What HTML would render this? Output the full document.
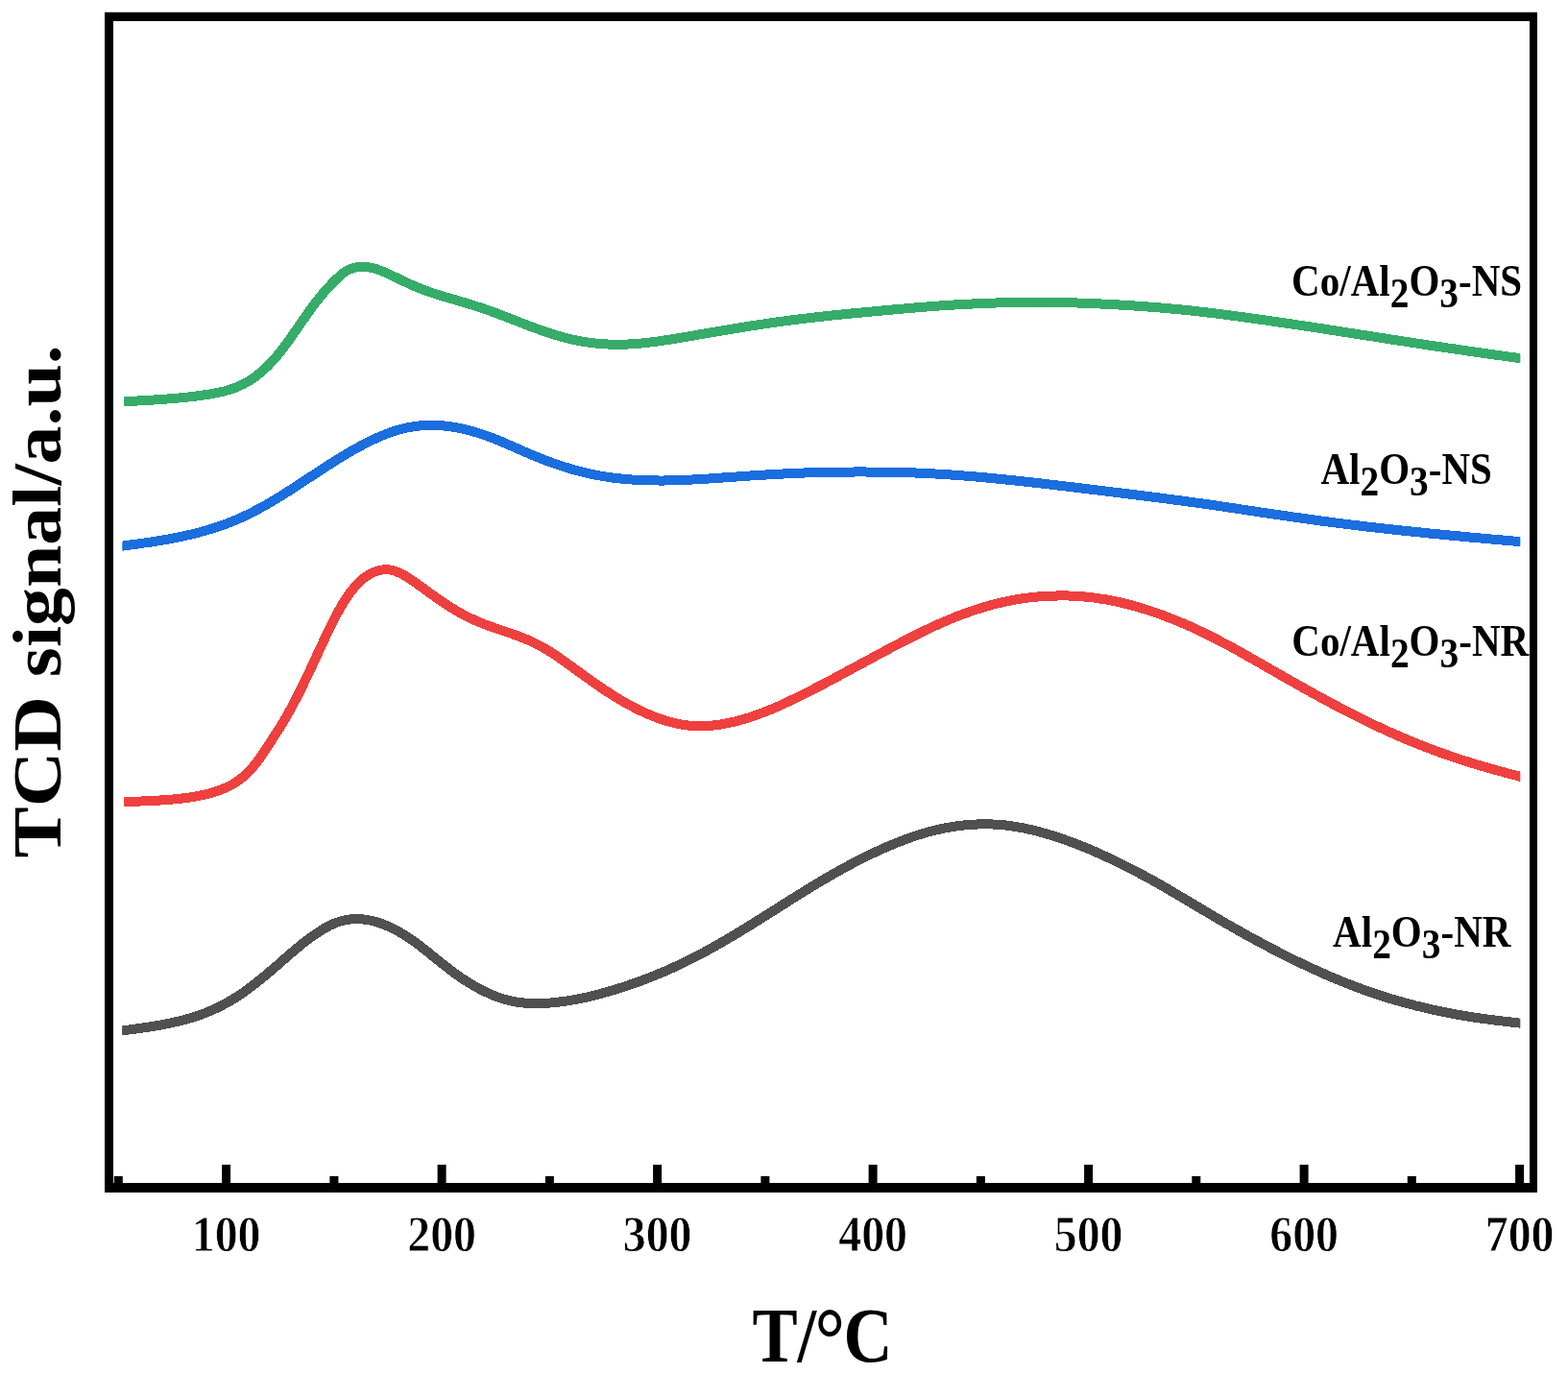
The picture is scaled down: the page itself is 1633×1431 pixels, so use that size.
<!DOCTYPE html>
<html lang="en"><head><meta charset="utf-8"><title>TCD signal</title>
<style>html,body{margin:0;padding:0;background:#fff}svg{display:block}text{font-family:"Liberation Serif","Times New Roman",serif;font-weight:bold;fill:#000}</style></head><body>
<svg width="1633" height="1431" viewBox="0 0 1633 1431">
<rect width="1633" height="1431" fill="#fff"/>
<defs><clipPath id="c-green"><rect x="129.2" y="0" width="1454.0" height="1431"/></clipPath><clipPath id="c-blue"><rect x="127.5" y="0" width="1455.7" height="1431"/></clipPath><clipPath id="c-red"><rect x="129.2" y="0" width="1454.0" height="1431"/></clipPath><clipPath id="c-gray"><rect x="127.2" y="0" width="1456.0" height="1431"/></clipPath><path id="p-gray" d="M119.5 1074.5C120.8 1074.3 125.2 1073.7 127.5 1073.4C129.8 1073.1 131.5 1072.9 133.5 1072.6C135.5 1072.3 137.5 1072.1 139.5 1071.8C141.5 1071.5 143.5 1071.2 145.5 1070.9C147.5 1070.7 149.5 1070.4 151.5 1070.1C153.5 1069.8 155.5 1069.5 157.5 1069.2C159.5 1068.8 161.5 1068.5 163.5 1068.2C165.5 1067.8 167.5 1067.5 169.5 1067.1C171.5 1066.7 173.5 1066.3 175.5 1065.9C177.5 1065.5 179.5 1065.1 181.5 1064.6C183.5 1064.2 185.5 1063.7 187.5 1063.2C189.5 1062.7 191.5 1062.2 193.5 1061.7C195.5 1061.1 197.5 1060.5 199.5 1059.9C201.5 1059.3 203.5 1058.7 205.5 1058.0C207.5 1057.3 209.5 1056.6 211.5 1055.9C213.5 1055.1 215.5 1054.3 217.5 1053.5C219.5 1052.7 221.5 1051.8 223.5 1050.9C225.5 1050.0 227.5 1049.0 229.5 1048.0C231.5 1047.0 233.5 1045.9 235.5 1044.8C237.5 1043.7 239.5 1042.6 241.5 1041.4C243.5 1040.2 245.5 1038.9 247.5 1037.6C249.5 1036.3 251.5 1035.0 253.5 1033.6C255.5 1032.2 257.5 1030.7 259.5 1029.2C261.5 1027.8 263.5 1026.2 265.5 1024.7C267.5 1023.1 269.5 1021.5 271.5 1019.9C273.5 1018.3 275.5 1016.6 277.5 1014.9C279.5 1013.3 281.5 1011.5 283.5 1009.8C285.5 1008.1 287.5 1006.4 289.5 1004.7C291.5 1002.9 293.5 1001.2 295.5 999.4C297.5 997.7 299.5 995.9 301.5 994.2C303.5 992.5 305.5 990.8 307.5 989.1C309.5 987.4 311.5 985.7 313.5 984.1C315.5 982.5 317.5 980.9 319.5 979.4C321.5 977.9 323.5 976.4 325.5 975.0C327.5 973.6 329.5 972.2 331.5 970.9C333.5 969.6 335.5 968.3 337.5 967.1C339.5 966.0 341.5 964.9 343.5 963.9C345.5 962.9 347.5 962.0 349.5 961.2C351.5 960.4 353.5 959.8 355.5 959.2C357.5 958.7 359.5 958.2 361.5 957.9C363.5 957.6 365.5 957.4 367.5 957.2C369.5 957.1 371.5 957.1 373.5 957.2C375.5 957.2 377.5 957.4 379.5 957.6C381.5 957.9 383.5 958.2 385.5 958.6C387.5 959.0 389.5 959.5 391.5 960.1C393.5 960.6 395.5 961.3 397.5 962.0C399.5 962.7 401.5 963.5 403.5 964.4C405.5 965.3 407.5 966.2 409.5 967.2C411.5 968.2 413.5 969.3 415.5 970.4C417.5 971.5 419.5 972.7 421.5 974.0C423.5 975.2 425.5 976.6 427.5 977.9C429.5 979.3 431.5 980.7 433.5 982.2C435.5 983.7 437.5 985.2 439.5 986.8C441.5 988.3 443.5 989.9 445.5 991.5C447.5 993.1 449.5 994.7 451.5 996.3C453.5 997.9 455.5 999.6 457.5 1001.2C459.5 1002.8 461.5 1004.4 463.5 1005.9C465.5 1007.5 467.5 1009.1 469.5 1010.6C471.5 1012.1 473.5 1013.6 475.5 1015.0C477.5 1016.4 479.5 1017.8 481.5 1019.2C483.5 1020.5 485.5 1021.8 487.5 1023.0C489.5 1024.3 491.5 1025.5 493.5 1026.6C495.5 1027.8 497.5 1028.9 499.5 1030.0C501.5 1031.0 503.5 1032.0 505.5 1033.0C507.5 1033.9 509.5 1034.8 511.5 1035.7C513.5 1036.6 515.5 1037.4 517.5 1038.1C519.5 1038.9 521.5 1039.5 523.5 1040.2C525.5 1040.8 527.5 1041.3 529.5 1041.8C531.5 1042.3 533.5 1042.8 535.5 1043.1C537.5 1043.5 539.5 1043.8 541.5 1044.1C543.5 1044.3 545.5 1044.5 547.5 1044.7C549.5 1044.8 551.5 1044.9 553.5 1045.0C555.5 1045.1 557.5 1045.1 559.5 1045.1C561.5 1045.1 563.5 1045.0 565.5 1044.9C567.5 1044.9 569.5 1044.7 571.5 1044.6C573.5 1044.5 575.5 1044.3 577.5 1044.1C579.5 1043.9 581.5 1043.7 583.5 1043.4C585.5 1043.2 587.5 1042.9 589.5 1042.6C591.5 1042.3 593.5 1042.0 595.5 1041.6C597.5 1041.3 599.5 1040.9 601.5 1040.5C603.5 1040.1 605.5 1039.7 607.5 1039.3C609.5 1038.9 611.5 1038.4 613.5 1038.0C615.5 1037.5 617.5 1037.0 619.5 1036.5C621.5 1036.0 623.5 1035.5 625.5 1034.9C627.5 1034.4 629.5 1033.9 631.5 1033.3C633.5 1032.7 635.5 1032.1 637.5 1031.6C639.5 1031.0 641.5 1030.3 643.5 1029.7C645.5 1029.1 647.5 1028.5 649.5 1027.8C651.5 1027.2 653.5 1026.5 655.5 1025.8C657.5 1025.1 659.5 1024.4 661.5 1023.7C663.5 1023.0 665.5 1022.3 667.5 1021.6C669.5 1020.8 671.5 1020.1 673.5 1019.3C675.5 1018.5 677.5 1017.7 679.5 1016.9C681.5 1016.1 683.5 1015.3 685.5 1014.5C687.5 1013.7 689.5 1012.8 691.5 1012.0C693.5 1011.1 695.5 1010.2 697.5 1009.3C699.5 1008.4 701.5 1007.5 703.5 1006.6C705.5 1005.7 707.5 1004.7 709.5 1003.8C711.5 1002.8 713.5 1001.9 715.5 1000.9C717.5 999.9 719.5 998.9 721.5 997.9C723.5 996.8 725.5 995.8 727.5 994.8C729.5 993.7 731.5 992.7 733.5 991.6C735.5 990.5 737.5 989.4 739.5 988.3C741.5 987.2 743.5 986.1 745.5 985.0C747.5 983.8 749.5 982.7 751.5 981.5C753.5 980.4 755.5 979.2 757.5 978.0C759.5 976.9 761.5 975.7 763.5 974.5C765.5 973.3 767.5 972.1 769.5 970.9C771.5 969.7 773.5 968.4 775.5 967.2C777.5 966.0 779.5 964.8 781.5 963.5C783.5 962.3 785.5 961.0 787.5 959.8C789.5 958.5 791.5 957.3 793.5 956.0C795.5 954.8 797.5 953.5 799.5 952.3C801.5 951.0 803.5 949.7 805.5 948.5C807.5 947.2 809.5 945.9 811.5 944.7C813.5 943.4 815.5 942.1 817.5 940.9C819.5 939.6 821.5 938.3 823.5 937.1C825.5 935.8 827.5 934.6 829.5 933.3C831.5 932.1 833.5 930.8 835.5 929.6C837.5 928.3 839.5 927.1 841.5 925.9C843.5 924.6 845.5 923.4 847.5 922.2C849.5 921.0 851.5 919.8 853.5 918.6C855.5 917.4 857.5 916.2 859.5 915.1C861.5 913.9 863.5 912.7 865.5 911.6C867.5 910.4 869.5 909.3 871.5 908.2C873.5 907.0 875.5 905.9 877.5 904.8C879.5 903.7 881.5 902.6 883.5 901.6C885.5 900.5 887.5 899.4 889.5 898.4C891.5 897.3 893.5 896.3 895.5 895.3C897.5 894.3 899.5 893.3 901.5 892.3C903.5 891.3 905.5 890.3 907.5 889.4C909.5 888.4 911.5 887.5 913.5 886.6C915.5 885.6 917.5 884.7 919.5 883.8C921.5 883.0 923.5 882.1 925.5 881.2C927.5 880.4 929.5 879.6 931.5 878.7C933.5 877.9 935.5 877.1 937.5 876.3C939.5 875.6 941.5 874.8 943.5 874.1C945.5 873.3 947.5 872.6 949.5 871.9C951.5 871.2 953.5 870.5 955.5 869.9C957.5 869.3 959.5 868.6 961.5 868.0C963.5 867.4 965.5 866.9 967.5 866.3C969.5 865.8 971.5 865.3 973.5 864.8C975.5 864.3 977.5 863.8 979.5 863.4C981.5 863.0 983.5 862.6 985.5 862.2C987.5 861.8 989.5 861.5 991.5 861.1C993.5 860.8 995.5 860.5 997.5 860.3C999.5 860.0 1001.5 859.8 1003.5 859.5C1005.5 859.3 1007.5 859.1 1009.5 859.0C1011.5 858.8 1013.5 858.7 1015.5 858.6C1017.5 858.5 1019.5 858.4 1021.5 858.3C1023.5 858.3 1025.5 858.3 1027.5 858.3C1029.5 858.3 1031.5 858.4 1033.5 858.5C1035.5 858.5 1037.5 858.7 1039.5 858.8C1041.5 858.9 1043.5 859.1 1045.5 859.3C1047.5 859.5 1049.5 859.8 1051.5 860.1C1053.5 860.3 1055.5 860.6 1057.5 860.9C1059.5 861.3 1061.5 861.6 1063.5 862.0C1065.5 862.4 1067.5 862.8 1069.5 863.2C1071.5 863.7 1073.5 864.1 1075.5 864.6C1077.5 865.1 1079.5 865.6 1081.5 866.1C1083.5 866.6 1085.5 867.2 1087.5 867.7C1089.5 868.3 1091.5 868.9 1093.5 869.5C1095.5 870.1 1097.5 870.7 1099.5 871.4C1101.5 872.0 1103.5 872.7 1105.5 873.4C1107.5 874.0 1109.5 874.7 1111.5 875.5C1113.5 876.2 1115.5 876.9 1117.5 877.7C1119.5 878.4 1121.5 879.2 1123.5 880.0C1125.5 880.8 1127.5 881.6 1129.5 882.4C1131.5 883.2 1133.5 884.1 1135.5 884.9C1137.5 885.8 1139.5 886.6 1141.5 887.5C1143.5 888.4 1145.5 889.3 1147.5 890.2C1149.5 891.1 1151.5 892.0 1153.5 893.0C1155.5 893.9 1157.5 894.8 1159.5 895.8C1161.5 896.8 1163.5 897.7 1165.5 898.7C1167.5 899.7 1169.5 900.7 1171.5 901.7C1173.5 902.7 1175.5 903.7 1177.5 904.7C1179.5 905.8 1181.5 906.8 1183.5 907.8C1185.5 908.9 1187.5 909.9 1189.5 911.0C1191.5 912.1 1193.5 913.1 1195.5 914.2C1197.5 915.3 1199.5 916.4 1201.5 917.5C1203.5 918.7 1205.5 919.8 1207.5 920.9C1209.5 922.1 1211.5 923.2 1213.5 924.4C1215.5 925.5 1217.5 926.7 1219.5 927.9C1221.5 929.0 1223.5 930.2 1225.5 931.4C1227.5 932.6 1229.5 933.8 1231.5 934.9C1233.5 936.1 1235.5 937.3 1237.5 938.5C1239.5 939.7 1241.5 940.9 1243.5 942.1C1245.5 943.3 1247.5 944.5 1249.5 945.7C1251.5 946.9 1253.5 948.1 1255.5 949.2C1257.5 950.4 1259.5 951.6 1261.5 952.8C1263.5 954.0 1265.5 955.1 1267.5 956.3C1269.5 957.5 1271.5 958.6 1273.5 959.8C1275.5 961.0 1277.5 962.1 1279.5 963.3C1281.5 964.4 1283.5 965.6 1285.5 966.7C1287.5 967.8 1289.5 969.0 1291.5 970.1C1293.5 971.2 1295.5 972.3 1297.5 973.5C1299.5 974.6 1301.5 975.7 1303.5 976.8C1305.5 977.9 1307.5 979.0 1309.5 980.0C1311.5 981.1 1313.5 982.2 1315.5 983.2C1317.5 984.3 1319.5 985.4 1321.5 986.4C1323.5 987.5 1325.5 988.5 1327.5 989.5C1329.5 990.6 1331.5 991.6 1333.5 992.6C1335.5 993.6 1337.5 994.7 1339.5 995.7C1341.5 996.7 1343.5 997.7 1345.5 998.6C1347.5 999.6 1349.5 1000.6 1351.5 1001.6C1353.5 1002.5 1355.5 1003.5 1357.5 1004.4C1359.5 1005.4 1361.5 1006.3 1363.5 1007.3C1365.5 1008.2 1367.5 1009.1 1369.5 1010.0C1371.5 1010.9 1373.5 1011.8 1375.5 1012.7C1377.5 1013.6 1379.5 1014.5 1381.5 1015.4C1383.5 1016.3 1385.5 1017.1 1387.5 1018.0C1389.5 1018.8 1391.5 1019.6 1393.5 1020.5C1395.5 1021.3 1397.5 1022.1 1399.5 1022.9C1401.5 1023.7 1403.5 1024.5 1405.5 1025.3C1407.5 1026.1 1409.5 1026.8 1411.5 1027.6C1413.5 1028.4 1415.5 1029.1 1417.5 1029.8C1419.5 1030.6 1421.5 1031.3 1423.5 1032.0C1425.5 1032.7 1427.5 1033.4 1429.5 1034.1C1431.5 1034.8 1433.5 1035.4 1435.5 1036.1C1437.5 1036.8 1439.5 1037.4 1441.5 1038.0C1443.5 1038.7 1445.5 1039.3 1447.5 1039.9C1449.5 1040.5 1451.5 1041.1 1453.5 1041.7C1455.5 1042.3 1457.5 1042.9 1459.5 1043.4C1461.5 1044.0 1463.5 1044.5 1465.5 1045.1C1467.5 1045.6 1469.5 1046.1 1471.5 1046.6C1473.5 1047.2 1475.5 1047.7 1477.5 1048.1C1479.5 1048.6 1481.5 1049.1 1483.5 1049.6C1485.5 1050.1 1487.5 1050.5 1489.5 1051.0C1491.5 1051.4 1493.5 1051.9 1495.5 1052.3C1497.5 1052.7 1499.5 1053.1 1501.5 1053.5C1503.5 1054.0 1505.5 1054.4 1507.5 1054.7C1509.5 1055.1 1511.5 1055.5 1513.5 1055.9C1515.5 1056.3 1517.5 1056.6 1519.5 1057.0C1521.5 1057.3 1523.5 1057.7 1525.5 1058.0C1527.5 1058.3 1529.5 1058.7 1531.5 1059.0C1533.5 1059.3 1535.5 1059.6 1537.5 1059.9C1539.5 1060.2 1541.5 1060.5 1543.5 1060.8C1545.5 1061.0 1547.5 1061.3 1549.5 1061.6C1551.5 1061.9 1553.5 1062.1 1555.5 1062.4C1557.5 1062.6 1559.5 1062.9 1561.5 1063.1C1563.5 1063.4 1565.5 1063.6 1567.5 1063.8C1569.5 1064.1 1571.5 1064.3 1573.5 1064.5C1575.5 1064.7 1577.9 1065.0 1579.5 1065.2C1581.1 1065.4 1581.1 1065.4 1583.0 1065.6C1584.9 1065.8 1589.7 1066.3 1591.0 1066.5"/><path id="p-red" d="M120.5 835.6C121.8 835.5 126.2 835.4 128.5 835.3C130.8 835.2 132.5 835.1 134.5 835.0C136.5 835.0 138.5 834.9 140.5 834.8C142.5 834.7 144.5 834.6 146.5 834.5C148.5 834.5 150.5 834.4 152.5 834.3C154.5 834.2 156.5 834.1 158.5 834.0C160.5 833.9 162.5 833.8 164.5 833.6C166.5 833.5 168.5 833.4 170.5 833.3C172.5 833.1 174.5 833.0 176.5 832.8C178.5 832.6 180.5 832.5 182.5 832.3C184.5 832.1 186.5 831.9 188.5 831.6C190.5 831.4 192.5 831.2 194.5 830.9C196.5 830.6 198.5 830.3 200.5 830.0C202.5 829.7 204.5 829.4 206.5 829.0C208.5 828.6 210.5 828.2 212.5 827.7C214.5 827.2 216.5 826.7 218.5 826.2C220.5 825.6 222.5 825.0 224.5 824.4C226.5 823.7 228.5 823.0 230.5 822.3C232.5 821.5 234.5 820.7 236.5 819.7C238.5 818.8 240.5 817.8 242.5 816.6C244.5 815.4 246.5 814.1 248.5 812.7C250.5 811.2 252.5 809.7 254.5 807.9C256.5 806.1 258.5 804.2 260.5 802.0C262.5 799.9 264.5 797.6 266.5 795.0C268.5 792.5 270.5 789.7 272.5 786.9C274.5 784.0 276.5 780.9 278.5 777.8C280.5 774.8 282.5 771.6 284.5 768.5C286.5 765.4 288.5 762.3 290.5 759.2C292.5 756.0 294.5 752.8 296.5 749.4C298.5 746.0 300.5 742.4 302.5 738.8C304.5 735.2 306.5 731.4 308.5 727.5C310.5 723.6 312.5 719.6 314.5 715.5C316.5 711.5 318.5 707.3 320.5 703.1C322.5 698.8 324.5 694.5 326.5 690.2C328.5 685.9 330.5 681.6 332.5 677.2C334.5 672.9 336.5 668.6 338.5 664.4C340.5 660.1 342.5 655.9 344.5 651.9C346.5 647.9 348.5 643.9 350.5 640.2C352.5 636.5 354.5 632.9 356.5 629.5C358.5 626.2 360.5 623.1 362.5 620.2C364.5 617.3 366.5 614.7 368.5 612.3C370.5 609.9 372.5 607.8 374.5 605.9C376.5 604.0 378.5 602.4 380.5 601.0C382.5 599.6 384.5 598.4 386.5 597.3C388.5 596.3 390.5 595.4 392.5 594.8C394.5 594.1 396.5 593.6 398.5 593.4C400.5 593.1 402.5 593.1 404.5 593.3C406.5 593.5 408.5 593.9 410.5 594.5C412.5 595.1 414.5 595.9 416.5 596.9C418.5 597.8 420.5 598.9 422.5 600.1C424.5 601.3 426.5 602.6 428.5 603.9C430.5 605.2 432.5 606.7 434.5 608.1C436.5 609.5 438.5 610.9 440.5 612.4C442.5 613.8 444.5 615.3 446.5 616.8C448.5 618.2 450.5 619.7 452.5 621.1C454.5 622.5 456.5 623.9 458.5 625.3C460.5 626.7 462.5 628.1 464.5 629.4C466.5 630.7 468.5 632.0 470.5 633.2C472.5 634.5 474.5 635.7 476.5 636.8C478.5 638.0 480.5 639.1 482.5 640.2C484.5 641.2 486.5 642.2 488.5 643.2C490.5 644.2 492.5 645.1 494.5 646.0C496.5 646.9 498.5 647.7 500.5 648.5C502.5 649.4 504.5 650.1 506.5 650.9C508.5 651.6 510.5 652.4 512.5 653.1C514.5 653.8 516.5 654.5 518.5 655.1C520.5 655.8 522.5 656.5 524.5 657.2C526.5 657.9 528.5 658.5 530.5 659.2C532.5 659.9 534.5 660.6 536.5 661.3C538.5 662.1 540.5 662.8 542.5 663.6C544.5 664.4 546.5 665.1 548.5 666.0C550.5 666.8 552.5 667.7 554.5 668.7C556.5 669.6 558.5 670.6 560.5 671.6C562.5 672.7 564.5 673.8 566.5 674.9C568.5 676.1 570.5 677.3 572.5 678.5C574.5 679.8 576.5 681.1 578.5 682.4C580.5 683.7 582.5 685.1 584.5 686.5C586.5 687.9 588.5 689.3 590.5 690.8C592.5 692.2 594.5 693.6 596.5 695.1C598.5 696.6 600.5 698.0 602.5 699.5C604.5 700.9 606.5 702.4 608.5 703.8C610.5 705.3 612.5 706.7 614.5 708.2C616.5 709.6 618.5 711.0 620.5 712.4C622.5 713.8 624.5 715.2 626.5 716.5C628.5 717.9 630.5 719.2 632.5 720.5C634.5 721.8 636.5 723.1 638.5 724.3C640.5 725.6 642.5 726.8 644.5 728.0C646.5 729.2 648.5 730.4 650.5 731.5C652.5 732.6 654.5 733.8 656.5 734.8C658.5 735.9 660.5 736.9 662.5 738.0C664.5 739.0 666.5 739.9 668.5 740.9C670.5 741.8 672.5 742.7 674.5 743.6C676.5 744.5 678.5 745.3 680.5 746.1C682.5 746.9 684.5 747.6 686.5 748.4C688.5 749.1 690.5 749.7 692.5 750.4C694.5 751.0 696.5 751.6 698.5 752.1C700.5 752.6 702.5 753.1 704.5 753.5C706.5 754.0 708.5 754.3 710.5 754.7C712.5 755.0 714.5 755.3 716.5 755.5C718.5 755.7 720.5 755.9 722.5 756.0C724.5 756.1 726.5 756.2 728.5 756.2C730.5 756.2 732.5 756.2 734.5 756.1C736.5 756.0 738.5 755.9 740.5 755.7C742.5 755.6 744.5 755.3 746.5 755.1C748.5 754.8 750.5 754.5 752.5 754.2C754.5 753.8 756.5 753.4 758.5 753.0C760.5 752.6 762.5 752.1 764.5 751.7C766.5 751.2 768.5 750.7 770.5 750.1C772.5 749.6 774.5 749.0 776.5 748.4C778.5 747.8 780.5 747.1 782.5 746.5C784.5 745.8 786.5 745.1 788.5 744.4C790.5 743.7 792.5 742.9 794.5 742.1C796.5 741.4 798.5 740.6 800.5 739.8C802.5 739.0 804.5 738.1 806.5 737.3C808.5 736.4 810.5 735.5 812.5 734.7C814.5 733.8 816.5 732.9 818.5 731.9C820.5 731.0 822.5 730.1 824.5 729.1C826.5 728.2 828.5 727.2 830.5 726.2C832.5 725.2 834.5 724.3 836.5 723.3C838.5 722.3 840.5 721.2 842.5 720.2C844.5 719.2 846.5 718.2 848.5 717.1C850.5 716.1 852.5 715.1 854.5 714.0C856.5 713.0 858.5 711.9 860.5 710.9C862.5 709.8 864.5 708.8 866.5 707.7C868.5 706.6 870.5 705.6 872.5 704.5C874.5 703.4 876.5 702.3 878.5 701.3C880.5 700.2 882.5 699.1 884.5 698.0C886.5 697.0 888.5 695.9 890.5 694.8C892.5 693.7 894.5 692.6 896.5 691.5C898.5 690.5 900.5 689.4 902.5 688.3C904.5 687.2 906.5 686.1 908.5 685.1C910.5 684.0 912.5 682.9 914.5 681.8C916.5 680.8 918.5 679.7 920.5 678.6C922.5 677.6 924.5 676.5 926.5 675.4C928.5 674.4 930.5 673.3 932.5 672.3C934.5 671.2 936.5 670.2 938.5 669.1C940.5 668.1 942.5 667.1 944.5 666.0C946.5 665.0 948.5 664.0 950.5 663.0C952.5 662.0 954.5 661.0 956.5 660.0C958.5 659.0 960.5 658.0 962.5 657.0C964.5 656.1 966.5 655.1 968.5 654.2C970.5 653.2 972.5 652.3 974.5 651.4C976.5 650.5 978.5 649.6 980.5 648.7C982.5 647.8 984.5 647.0 986.5 646.1C988.5 645.3 990.5 644.5 992.5 643.7C994.5 642.8 996.5 642.1 998.5 641.3C1000.5 640.5 1002.5 639.8 1004.5 639.0C1006.5 638.3 1008.5 637.6 1010.5 636.9C1012.5 636.2 1014.5 635.5 1016.5 634.9C1018.5 634.2 1020.5 633.6 1022.5 633.0C1024.5 632.4 1026.5 631.8 1028.5 631.2C1030.5 630.7 1032.5 630.1 1034.5 629.6C1036.5 629.1 1038.5 628.6 1040.5 628.1C1042.5 627.6 1044.5 627.2 1046.5 626.7C1048.5 626.3 1050.5 625.9 1052.5 625.5C1054.5 625.1 1056.5 624.7 1058.5 624.4C1060.5 624.0 1062.5 623.7 1064.5 623.4C1066.5 623.1 1068.5 622.8 1070.5 622.6C1072.5 622.3 1074.5 622.1 1076.5 621.9C1078.5 621.7 1080.5 621.5 1082.5 621.3C1084.5 621.2 1086.5 621.0 1088.5 620.9C1090.5 620.8 1092.5 620.7 1094.5 620.6C1096.5 620.5 1098.5 620.5 1100.5 620.5C1102.5 620.4 1104.5 620.4 1106.5 620.4C1108.5 620.4 1110.5 620.5 1112.5 620.5C1114.5 620.6 1116.5 620.7 1118.5 620.7C1120.5 620.8 1122.5 621.0 1124.5 621.1C1126.5 621.2 1128.5 621.4 1130.5 621.6C1132.5 621.8 1134.5 622.0 1136.5 622.2C1138.5 622.5 1140.5 622.7 1142.5 623.0C1144.5 623.3 1146.5 623.6 1148.5 623.9C1150.5 624.2 1152.5 624.6 1154.5 624.9C1156.5 625.3 1158.5 625.7 1160.5 626.1C1162.5 626.5 1164.5 627.0 1166.5 627.4C1168.5 627.9 1170.5 628.4 1172.5 628.9C1174.5 629.4 1176.5 629.9 1178.5 630.4C1180.5 631.0 1182.5 631.5 1184.5 632.1C1186.5 632.7 1188.5 633.3 1190.5 633.9C1192.5 634.5 1194.5 635.2 1196.5 635.8C1198.5 636.5 1200.5 637.1 1202.5 637.8C1204.5 638.5 1206.5 639.2 1208.5 639.9C1210.5 640.7 1212.5 641.4 1214.5 642.2C1216.5 642.9 1218.5 643.7 1220.5 644.5C1222.5 645.3 1224.5 646.1 1226.5 646.9C1228.5 647.7 1230.5 648.6 1232.5 649.4C1234.5 650.3 1236.5 651.1 1238.5 652.0C1240.5 652.9 1242.5 653.8 1244.5 654.7C1246.5 655.7 1248.5 656.6 1250.5 657.6C1252.5 658.5 1254.5 659.5 1256.5 660.5C1258.5 661.4 1260.5 662.5 1262.5 663.5C1264.5 664.5 1266.5 665.5 1268.5 666.5C1270.5 667.6 1272.5 668.6 1274.5 669.7C1276.5 670.8 1278.5 671.8 1280.5 672.9C1282.5 674.0 1284.5 675.1 1286.5 676.2C1288.5 677.3 1290.5 678.4 1292.5 679.5C1294.5 680.7 1296.5 681.8 1298.5 682.9C1300.5 684.0 1302.5 685.2 1304.5 686.3C1306.5 687.4 1308.5 688.6 1310.5 689.7C1312.5 690.9 1314.5 692.0 1316.5 693.2C1318.5 694.3 1320.5 695.5 1322.5 696.6C1324.5 697.7 1326.5 698.9 1328.5 700.0C1330.5 701.2 1332.5 702.3 1334.5 703.5C1336.5 704.6 1338.5 705.8 1340.5 706.9C1342.5 708.1 1344.5 709.2 1346.5 710.3C1348.5 711.5 1350.5 712.6 1352.5 713.7C1354.5 714.8 1356.5 716.0 1358.5 717.1C1360.5 718.2 1362.5 719.3 1364.5 720.4C1366.5 721.5 1368.5 722.6 1370.5 723.7C1372.5 724.8 1374.5 725.9 1376.5 727.0C1378.5 728.1 1380.5 729.2 1382.5 730.2C1384.5 731.3 1386.5 732.4 1388.5 733.5C1390.5 734.5 1392.5 735.6 1394.5 736.6C1396.5 737.7 1398.5 738.7 1400.5 739.7C1402.5 740.8 1404.5 741.8 1406.5 742.8C1408.5 743.8 1410.5 744.9 1412.5 745.9C1414.5 746.9 1416.5 747.9 1418.5 748.8C1420.5 749.8 1422.5 750.8 1424.5 751.8C1426.5 752.8 1428.5 753.7 1430.5 754.7C1432.5 755.6 1434.5 756.6 1436.5 757.5C1438.5 758.4 1440.5 759.4 1442.5 760.3C1444.5 761.2 1446.5 762.1 1448.5 763.0C1450.5 763.9 1452.5 764.8 1454.5 765.6C1456.5 766.5 1458.5 767.4 1460.5 768.2C1462.5 769.1 1464.5 769.9 1466.5 770.8C1468.5 771.6 1470.5 772.4 1472.5 773.2C1474.5 774.0 1476.5 774.8 1478.5 775.6C1480.5 776.4 1482.5 777.2 1484.5 778.0C1486.5 778.8 1488.5 779.5 1490.5 780.3C1492.5 781.0 1494.5 781.8 1496.5 782.5C1498.5 783.2 1500.5 784.0 1502.5 784.7C1504.5 785.4 1506.5 786.1 1508.5 786.8C1510.5 787.5 1512.5 788.2 1514.5 788.8C1516.5 789.5 1518.5 790.2 1520.5 790.8C1522.5 791.5 1524.5 792.1 1526.5 792.8C1528.5 793.4 1530.5 794.0 1532.5 794.6C1534.5 795.2 1536.5 795.9 1538.5 796.5C1540.5 797.0 1542.5 797.6 1544.5 798.2C1546.5 798.8 1548.5 799.4 1550.5 799.9C1552.5 800.5 1554.5 801.1 1556.5 801.6C1558.5 802.2 1560.5 802.7 1562.5 803.3C1564.5 803.8 1566.5 804.4 1568.5 804.9C1570.5 805.4 1572.5 806.0 1574.5 806.5C1576.5 807.0 1579.1 807.7 1580.5 808.1C1581.9 808.5 1581.2 808.3 1583.0 808.8C1584.8 809.2 1589.7 810.5 1591.0 810.9"/><path id="p-blue" d="M119.5 569.7C120.8 569.5 125.2 568.9 127.5 568.6C129.8 568.3 131.5 568.1 133.5 567.8C135.5 567.6 137.5 567.3 139.5 567.0C141.5 566.8 143.5 566.5 145.5 566.2C147.5 565.9 149.5 565.6 151.5 565.3C153.5 565.1 155.5 564.8 157.5 564.5C159.5 564.2 161.5 563.8 163.5 563.5C165.5 563.2 167.5 562.9 169.5 562.5C171.5 562.2 173.5 561.8 175.5 561.5C177.5 561.1 179.5 560.7 181.5 560.4C183.5 560.0 185.5 559.6 187.5 559.1C189.5 558.7 191.5 558.3 193.5 557.8C195.5 557.4 197.5 556.9 199.5 556.5C201.5 556.0 203.5 555.5 205.5 555.0C207.5 554.4 209.5 553.9 211.5 553.3C213.5 552.8 215.5 552.2 217.5 551.6C219.5 551.0 221.5 550.4 223.5 549.7C225.5 549.1 227.5 548.4 229.5 547.7C231.5 547.0 233.5 546.3 235.5 545.6C237.5 544.8 239.5 544.0 241.5 543.2C243.5 542.4 245.5 541.6 247.5 540.7C249.5 539.9 251.5 539.0 253.5 538.0C255.5 537.1 257.5 536.2 259.5 535.2C261.5 534.2 263.5 533.2 265.5 532.1C267.5 531.1 269.5 530.0 271.5 528.9C273.5 527.8 275.5 526.7 277.5 525.6C279.5 524.4 281.5 523.2 283.5 522.1C285.5 520.9 287.5 519.7 289.5 518.4C291.5 517.2 293.5 516.0 295.5 514.7C297.5 513.4 299.5 512.2 301.5 510.9C303.5 509.6 305.5 508.3 307.5 507.0C309.5 505.7 311.5 504.4 313.5 503.1C315.5 501.8 317.5 500.5 319.5 499.1C321.5 497.8 323.5 496.5 325.5 495.2C327.5 493.9 329.5 492.6 331.5 491.2C333.5 489.9 335.5 488.6 337.5 487.3C339.5 486.0 341.5 484.8 343.5 483.5C345.5 482.2 347.5 480.9 349.5 479.7C351.5 478.4 353.5 477.2 355.5 476.0C357.5 474.8 359.5 473.6 361.5 472.4C363.5 471.2 365.5 470.0 367.5 468.9C369.5 467.8 371.5 466.6 373.5 465.6C375.5 464.5 377.5 463.4 379.5 462.4C381.5 461.3 383.5 460.3 385.5 459.3C387.5 458.4 389.5 457.4 391.5 456.5C393.5 455.6 395.5 454.7 397.5 453.9C399.5 453.1 401.5 452.3 403.5 451.5C405.5 450.8 407.5 450.0 409.5 449.4C411.5 448.7 413.5 448.1 415.5 447.5C417.5 447.0 419.5 446.5 421.5 446.0C423.5 445.5 425.5 445.1 427.5 444.8C429.5 444.4 431.5 444.1 433.5 443.9C435.5 443.6 437.5 443.4 439.5 443.3C441.5 443.1 443.5 443.0 445.5 442.9C447.5 442.9 449.5 442.8 451.5 442.9C453.5 442.9 455.5 443.0 457.5 443.1C459.5 443.2 461.5 443.4 463.5 443.6C465.5 443.8 467.5 444.1 469.5 444.4C471.5 444.6 473.5 445.0 475.5 445.3C477.5 445.7 479.5 446.1 481.5 446.6C483.5 447.0 485.5 447.5 487.5 448.0C489.5 448.5 491.5 449.0 493.5 449.6C495.5 450.2 497.5 450.8 499.5 451.5C501.5 452.1 503.5 452.8 505.5 453.5C507.5 454.2 509.5 454.9 511.5 455.7C513.5 456.4 515.5 457.2 517.5 458.0C519.5 458.8 521.5 459.7 523.5 460.5C525.5 461.3 527.5 462.2 529.5 463.1C531.5 463.9 533.5 464.8 535.5 465.7C537.5 466.6 539.5 467.5 541.5 468.4C543.5 469.2 545.5 470.1 547.5 471.0C549.5 471.9 551.5 472.7 553.5 473.6C555.5 474.4 557.5 475.2 559.5 476.0C561.5 476.8 563.5 477.6 565.5 478.4C567.5 479.2 569.5 479.9 571.5 480.7C573.5 481.4 575.5 482.2 577.5 482.9C579.5 483.6 581.5 484.2 583.5 484.9C585.5 485.6 587.5 486.2 589.5 486.8C591.5 487.4 593.5 488.0 595.5 488.6C597.5 489.2 599.5 489.8 601.5 490.3C603.5 490.8 605.5 491.3 607.5 491.8C609.5 492.3 611.5 492.8 613.5 493.2C615.5 493.6 617.5 494.1 619.5 494.5C621.5 494.9 623.5 495.2 625.5 495.6C627.5 495.9 629.5 496.3 631.5 496.6C633.5 496.9 635.5 497.2 637.5 497.5C639.5 497.7 641.5 498.0 643.5 498.2C645.5 498.4 647.5 498.6 649.5 498.8C651.5 499.0 653.5 499.2 655.5 499.3C657.5 499.5 659.5 499.6 661.5 499.8C663.5 499.9 665.5 500.0 667.5 500.1C669.5 500.1 671.5 500.2 673.5 500.3C675.5 500.3 677.5 500.4 679.5 500.4C681.5 500.4 683.5 500.5 685.5 500.5C687.5 500.5 689.5 500.5 691.5 500.5C693.5 500.4 695.5 500.4 697.5 500.4C699.5 500.3 701.5 500.3 703.5 500.2C705.5 500.2 707.5 500.1 709.5 500.0C711.5 500.0 713.5 499.9 715.5 499.8C717.5 499.7 719.5 499.6 721.5 499.5C723.5 499.4 725.5 499.3 727.5 499.2C729.5 499.0 731.5 498.9 733.5 498.8C735.5 498.7 737.5 498.5 739.5 498.4C741.5 498.3 743.5 498.1 745.5 498.0C747.5 497.9 749.5 497.7 751.5 497.6C753.5 497.4 755.5 497.3 757.5 497.2C759.5 497.0 761.5 496.9 763.5 496.7C765.5 496.6 767.5 496.5 769.5 496.3C771.5 496.2 773.5 496.0 775.5 495.9C777.5 495.8 779.5 495.6 781.5 495.5C783.5 495.4 785.5 495.2 787.5 495.1C789.5 495.0 791.5 494.8 793.5 494.7C795.5 494.6 797.5 494.5 799.5 494.4C801.5 494.2 803.5 494.1 805.5 494.0C807.5 493.9 809.5 493.8 811.5 493.7C813.5 493.6 815.5 493.5 817.5 493.4C819.5 493.3 821.5 493.2 823.5 493.1C825.5 493.0 827.5 492.9 829.5 492.8C831.5 492.7 833.5 492.7 835.5 492.6C837.5 492.5 839.5 492.4 841.5 492.4C843.5 492.3 845.5 492.2 847.5 492.2C849.5 492.1 851.5 492.1 853.5 492.0C855.5 491.9 857.5 491.9 859.5 491.9C861.5 491.8 863.5 491.8 865.5 491.7C867.5 491.7 869.5 491.7 871.5 491.6C873.5 491.6 875.5 491.6 877.5 491.6C879.5 491.5 881.5 491.5 883.5 491.5C885.5 491.5 887.5 491.5 889.5 491.5C891.5 491.4 893.5 491.4 895.5 491.4C897.5 491.4 899.5 491.4 901.5 491.5C903.5 491.5 905.5 491.5 907.5 491.5C909.5 491.5 911.5 491.5 913.5 491.5C915.5 491.6 917.5 491.6 919.5 491.6C921.5 491.6 923.5 491.7 925.5 491.7C927.5 491.7 929.5 491.8 931.5 491.8C933.5 491.9 935.5 491.9 937.5 492.0C939.5 492.0 941.5 492.1 943.5 492.2C945.5 492.2 947.5 492.3 949.5 492.4C951.5 492.4 953.5 492.5 955.5 492.6C957.5 492.7 959.5 492.8 961.5 492.9C963.5 492.9 965.5 493.0 967.5 493.1C969.5 493.2 971.5 493.3 973.5 493.5C975.5 493.6 977.5 493.7 979.5 493.8C981.5 493.9 983.5 494.0 985.5 494.2C987.5 494.3 989.5 494.4 991.5 494.6C993.5 494.7 995.5 494.9 997.5 495.0C999.5 495.1 1001.5 495.3 1003.5 495.5C1005.5 495.6 1007.5 495.8 1009.5 495.9C1011.5 496.1 1013.5 496.3 1015.5 496.4C1017.5 496.6 1019.5 496.8 1021.5 497.0C1023.5 497.1 1025.5 497.3 1027.5 497.5C1029.5 497.7 1031.5 497.9 1033.5 498.1C1035.5 498.3 1037.5 498.5 1039.5 498.7C1041.5 498.9 1043.5 499.1 1045.5 499.3C1047.5 499.5 1049.5 499.7 1051.5 499.9C1053.5 500.1 1055.5 500.3 1057.5 500.5C1059.5 500.7 1061.5 500.9 1063.5 501.2C1065.5 501.4 1067.5 501.6 1069.5 501.8C1071.5 502.0 1073.5 502.3 1075.5 502.5C1077.5 502.7 1079.5 502.9 1081.5 503.2C1083.5 503.4 1085.5 503.6 1087.5 503.9C1089.5 504.1 1091.5 504.3 1093.5 504.6C1095.5 504.8 1097.5 505.0 1099.5 505.3C1101.5 505.5 1103.5 505.8 1105.5 506.0C1107.5 506.2 1109.5 506.5 1111.5 506.7C1113.5 507.0 1115.5 507.2 1117.5 507.4C1119.5 507.7 1121.5 507.9 1123.5 508.2C1125.5 508.4 1127.5 508.6 1129.5 508.9C1131.5 509.1 1133.5 509.4 1135.5 509.6C1137.5 509.9 1139.5 510.1 1141.5 510.3C1143.5 510.6 1145.5 510.8 1147.5 511.1C1149.5 511.3 1151.5 511.6 1153.5 511.8C1155.5 512.1 1157.5 512.3 1159.5 512.6C1161.5 512.8 1163.5 513.0 1165.5 513.3C1167.5 513.5 1169.5 513.8 1171.5 514.0C1173.5 514.3 1175.5 514.5 1177.5 514.8C1179.5 515.0 1181.5 515.3 1183.5 515.5C1185.5 515.8 1187.5 516.0 1189.5 516.3C1191.5 516.5 1193.5 516.8 1195.5 517.0C1197.5 517.3 1199.5 517.5 1201.5 517.8C1203.5 518.0 1205.5 518.3 1207.5 518.5C1209.5 518.8 1211.5 519.1 1213.5 519.3C1215.5 519.6 1217.5 519.8 1219.5 520.1C1221.5 520.3 1223.5 520.6 1225.5 520.9C1227.5 521.1 1229.5 521.4 1231.5 521.7C1233.5 521.9 1235.5 522.2 1237.5 522.5C1239.5 522.7 1241.5 523.0 1243.5 523.3C1245.5 523.6 1247.5 523.8 1249.5 524.1C1251.5 524.4 1253.5 524.7 1255.5 525.0C1257.5 525.2 1259.5 525.5 1261.5 525.8C1263.5 526.1 1265.5 526.4 1267.5 526.7C1269.5 527.0 1271.5 527.3 1273.5 527.6C1275.5 527.9 1277.5 528.2 1279.5 528.5C1281.5 528.8 1283.5 529.1 1285.5 529.4C1287.5 529.7 1289.5 530.0 1291.5 530.3C1293.5 530.6 1295.5 530.9 1297.5 531.2C1299.5 531.5 1301.5 531.8 1303.5 532.1C1305.5 532.4 1307.5 532.7 1309.5 533.0C1311.5 533.3 1313.5 533.6 1315.5 533.9C1317.5 534.2 1319.5 534.5 1321.5 534.8C1323.5 535.1 1325.5 535.4 1327.5 535.7C1329.5 536.0 1331.5 536.3 1333.5 536.5C1335.5 536.8 1337.5 537.1 1339.5 537.4C1341.5 537.7 1343.5 538.0 1345.5 538.3C1347.5 538.6 1349.5 538.9 1351.5 539.1C1353.5 539.4 1355.5 539.7 1357.5 540.0C1359.5 540.3 1361.5 540.5 1363.5 540.8C1365.5 541.1 1367.5 541.4 1369.5 541.6C1371.5 541.9 1373.5 542.2 1375.5 542.5C1377.5 542.7 1379.5 543.0 1381.5 543.3C1383.5 543.5 1385.5 543.8 1387.5 544.0C1389.5 544.3 1391.5 544.6 1393.5 544.8C1395.5 545.1 1397.5 545.3 1399.5 545.6C1401.5 545.8 1403.5 546.1 1405.5 546.3C1407.5 546.6 1409.5 546.8 1411.5 547.0C1413.5 547.3 1415.5 547.5 1417.5 547.8C1419.5 548.0 1421.5 548.2 1423.5 548.5C1425.5 548.7 1427.5 548.9 1429.5 549.2C1431.5 549.4 1433.5 549.6 1435.5 549.8C1437.5 550.1 1439.5 550.3 1441.5 550.5C1443.5 550.7 1445.5 551.0 1447.5 551.2C1449.5 551.4 1451.5 551.6 1453.5 551.8C1455.5 552.0 1457.5 552.3 1459.5 552.5C1461.5 552.7 1463.5 552.9 1465.5 553.1C1467.5 553.3 1469.5 553.5 1471.5 553.7C1473.5 553.9 1475.5 554.1 1477.5 554.3C1479.5 554.5 1481.5 554.7 1483.5 555.0C1485.5 555.2 1487.5 555.4 1489.5 555.6C1491.5 555.8 1493.5 555.9 1495.5 556.1C1497.5 556.3 1499.5 556.5 1501.5 556.7C1503.5 556.9 1505.5 557.1 1507.5 557.3C1509.5 557.5 1511.5 557.7 1513.5 557.9C1515.5 558.1 1517.5 558.3 1519.5 558.4C1521.5 558.6 1523.5 558.8 1525.5 559.0C1527.5 559.2 1529.5 559.4 1531.5 559.6C1533.5 559.7 1535.5 559.9 1537.5 560.1C1539.5 560.3 1541.5 560.5 1543.5 560.6C1545.5 560.8 1547.5 561.0 1549.5 561.2C1551.5 561.4 1553.5 561.5 1555.5 561.7C1557.5 561.9 1559.5 562.1 1561.5 562.2C1563.5 562.4 1565.5 562.6 1567.5 562.8C1569.5 562.9 1571.5 563.1 1573.5 563.3C1575.5 563.4 1577.9 563.7 1579.5 563.8C1581.1 563.9 1581.1 563.9 1583.0 564.1C1584.9 564.3 1589.7 564.7 1591.0 564.8"/><path id="p-green" d="M120.5 418.8C121.8 418.7 126.2 418.4 128.5 418.3C130.8 418.2 132.5 418.1 134.5 418.0C136.5 417.9 138.5 417.8 140.5 417.7C142.5 417.5 144.5 417.4 146.5 417.3C148.5 417.2 150.5 417.1 152.5 417.0C154.5 416.8 156.5 416.7 158.5 416.6C160.5 416.5 162.5 416.3 164.5 416.2C166.5 416.1 168.5 415.9 170.5 415.8C172.5 415.6 174.5 415.5 176.5 415.3C178.5 415.2 180.5 415.0 182.5 414.8C184.5 414.6 186.5 414.5 188.5 414.3C190.5 414.1 192.5 413.9 194.5 413.7C196.5 413.4 198.5 413.2 200.5 413.0C202.5 412.8 204.5 412.5 206.5 412.2C208.5 412.0 210.5 411.7 212.5 411.4C214.5 411.1 216.5 410.8 218.5 410.5C220.5 410.1 222.5 409.8 224.5 409.4C226.5 409.0 228.5 408.6 230.5 408.1C232.5 407.7 234.5 407.2 236.5 406.6C238.5 406.0 240.5 405.4 242.5 404.7C244.5 404.0 246.5 403.2 248.5 402.3C250.5 401.4 252.5 400.5 254.5 399.4C256.5 398.4 258.5 397.2 260.5 396.0C262.5 394.7 264.5 393.3 266.5 391.8C268.5 390.3 270.5 388.7 272.5 387.0C274.5 385.3 276.5 383.5 278.5 381.5C280.5 379.5 282.5 377.4 284.5 375.2C286.5 373.0 288.5 370.7 290.5 368.2C292.5 365.8 294.5 363.2 296.5 360.5C298.5 357.8 300.5 355.1 302.5 352.2C304.5 349.4 306.5 346.5 308.5 343.6C310.5 340.7 312.5 337.7 314.5 334.8C316.5 332.0 318.5 329.1 320.5 326.3C322.5 323.5 324.5 320.8 326.5 318.1C328.5 315.5 330.5 312.9 332.5 310.4C334.5 307.9 336.5 305.5 338.5 303.2C340.5 300.9 342.5 298.7 344.5 296.6C346.5 294.5 348.5 292.4 350.5 290.5C352.5 288.6 354.5 286.8 356.5 285.2C358.5 283.7 360.5 282.3 362.5 281.3C364.5 280.2 366.5 279.5 368.5 278.9C370.5 278.4 372.5 278.1 374.5 278.0C376.5 277.8 378.5 277.9 380.5 278.0C382.5 278.2 384.5 278.5 386.5 278.9C388.5 279.3 390.5 279.8 392.5 280.4C394.5 281.1 396.5 281.8 398.5 282.6C400.5 283.4 402.5 284.3 404.5 285.2C406.5 286.1 408.5 287.1 410.5 288.1C412.5 289.0 414.5 290.0 416.5 291.0C418.5 292.0 420.5 292.9 422.5 293.9C424.5 294.8 426.5 295.8 428.5 296.6C430.5 297.5 432.5 298.4 434.5 299.2C436.5 300.1 438.5 300.9 440.5 301.6C442.5 302.4 444.5 303.1 446.5 303.8C448.5 304.5 450.5 305.2 452.5 305.8C454.5 306.5 456.5 307.1 458.5 307.7C460.5 308.3 462.5 308.9 464.5 309.5C466.5 310.1 468.5 310.7 470.5 311.3C472.5 311.8 474.5 312.4 476.5 313.0C478.5 313.6 480.5 314.2 482.5 314.8C484.5 315.4 486.5 316.0 488.5 316.6C490.5 317.2 492.5 317.8 494.5 318.5C496.5 319.1 498.5 319.8 500.5 320.4C502.5 321.1 504.5 321.8 506.5 322.5C508.5 323.2 510.5 323.9 512.5 324.6C514.5 325.4 516.5 326.1 518.5 326.8C520.5 327.6 522.5 328.3 524.5 329.1C526.5 329.9 528.5 330.6 530.5 331.4C532.5 332.2 534.5 333.0 536.5 333.7C538.5 334.5 540.5 335.3 542.5 336.1C544.5 336.8 546.5 337.6 548.5 338.4C550.5 339.2 552.5 339.9 554.5 340.7C556.5 341.4 558.5 342.2 560.5 342.9C562.5 343.6 564.5 344.3 566.5 345.0C568.5 345.7 570.5 346.4 572.5 347.0C574.5 347.7 576.5 348.3 578.5 348.9C580.5 349.5 582.5 350.1 584.5 350.7C586.5 351.2 588.5 351.7 590.5 352.2C592.5 352.7 594.5 353.2 596.5 353.7C598.5 354.1 600.5 354.5 602.5 354.9C604.5 355.3 606.5 355.6 608.5 356.0C610.5 356.3 612.5 356.6 614.5 356.8C616.5 357.1 618.5 357.3 620.5 357.6C622.5 357.8 624.5 357.9 626.5 358.1C628.5 358.2 630.5 358.4 632.5 358.5C634.5 358.6 636.5 358.6 638.5 358.7C640.5 358.7 642.5 358.7 644.5 358.7C646.5 358.7 648.5 358.7 650.5 358.6C652.5 358.6 654.5 358.5 656.5 358.4C658.5 358.3 660.5 358.1 662.5 358.0C664.5 357.8 666.5 357.6 668.5 357.5C670.5 357.3 672.5 357.1 674.5 356.8C676.5 356.6 678.5 356.4 680.5 356.1C682.5 355.9 684.5 355.6 686.5 355.3C688.5 355.0 690.5 354.7 692.5 354.4C694.5 354.1 696.5 353.8 698.5 353.5C700.5 353.2 702.5 352.9 704.5 352.5C706.5 352.2 708.5 351.9 710.5 351.5C712.5 351.2 714.5 350.9 716.5 350.5C718.5 350.2 720.5 349.8 722.5 349.5C724.5 349.1 726.5 348.8 728.5 348.4C730.5 348.1 732.5 347.7 734.5 347.4C736.5 347.1 738.5 346.7 740.5 346.4C742.5 346.0 744.5 345.7 746.5 345.3C748.5 345.0 750.5 344.6 752.5 344.3C754.5 344.0 756.5 343.6 758.5 343.3C760.5 342.9 762.5 342.6 764.5 342.3C766.5 342.0 768.5 341.6 770.5 341.3C772.5 341.0 774.5 340.7 776.5 340.3C778.5 340.0 780.5 339.7 782.5 339.4C784.5 339.1 786.5 338.8 788.5 338.5C790.5 338.2 792.5 337.9 794.5 337.6C796.5 337.3 798.5 337.0 800.5 336.7C802.5 336.4 804.5 336.1 806.5 335.8C808.5 335.6 810.5 335.3 812.5 335.0C814.5 334.7 816.5 334.5 818.5 334.2C820.5 333.9 822.5 333.7 824.5 333.4C826.5 333.1 828.5 332.9 830.5 332.6C832.5 332.4 834.5 332.1 836.5 331.9C838.5 331.7 840.5 331.4 842.5 331.2C844.5 330.9 846.5 330.7 848.5 330.5C850.5 330.3 852.5 330.0 854.5 329.8C856.5 329.6 858.5 329.4 860.5 329.2C862.5 329.0 864.5 328.7 866.5 328.5C868.5 328.3 870.5 328.1 872.5 327.9C874.5 327.7 876.5 327.5 878.5 327.3C880.5 327.1 882.5 326.9 884.5 326.7C886.5 326.5 888.5 326.3 890.5 326.2C892.5 326.0 894.5 325.8 896.5 325.6C898.5 325.4 900.5 325.2 902.5 325.0C904.5 324.8 906.5 324.6 908.5 324.5C910.5 324.3 912.5 324.1 914.5 323.9C916.5 323.7 918.5 323.5 920.5 323.3C922.5 323.2 924.5 323.0 926.5 322.8C928.5 322.6 930.5 322.4 932.5 322.2C934.5 322.1 936.5 321.9 938.5 321.7C940.5 321.5 942.5 321.4 944.5 321.2C946.5 321.0 948.5 320.8 950.5 320.7C952.5 320.5 954.5 320.3 956.5 320.2C958.5 320.0 960.5 319.8 962.5 319.7C964.5 319.5 966.5 319.4 968.5 319.2C970.5 319.1 972.5 318.9 974.5 318.8C976.5 318.6 978.5 318.5 980.5 318.3C982.5 318.2 984.5 318.1 986.5 317.9C988.5 317.8 990.5 317.7 992.5 317.6C994.5 317.4 996.5 317.3 998.5 317.2C1000.5 317.1 1002.5 317.0 1004.5 316.9C1006.5 316.8 1008.5 316.7 1010.5 316.6C1012.5 316.5 1014.5 316.4 1016.5 316.3C1018.5 316.2 1020.5 316.1 1022.5 316.0C1024.5 316.0 1026.5 315.9 1028.5 315.8C1030.5 315.7 1032.5 315.7 1034.5 315.6C1036.5 315.5 1038.5 315.5 1040.5 315.4C1042.5 315.4 1044.5 315.3 1046.5 315.3C1048.5 315.2 1050.5 315.2 1052.5 315.1C1054.5 315.1 1056.5 315.0 1058.5 315.0C1060.5 315.0 1062.5 315.0 1064.5 314.9C1066.5 314.9 1068.5 314.9 1070.5 314.9C1072.5 314.9 1074.5 314.9 1076.5 314.8C1078.5 314.8 1080.5 314.8 1082.5 314.8C1084.5 314.8 1086.5 314.9 1088.5 314.9C1090.5 314.9 1092.5 314.9 1094.5 314.9C1096.5 314.9 1098.5 315.0 1100.5 315.0C1102.5 315.0 1104.5 315.1 1106.5 315.1C1108.5 315.2 1110.5 315.2 1112.5 315.3C1114.5 315.3 1116.5 315.4 1118.5 315.4C1120.5 315.5 1122.5 315.5 1124.5 315.6C1126.5 315.7 1128.5 315.7 1130.5 315.8C1132.5 315.9 1134.5 316.0 1136.5 316.1C1138.5 316.1 1140.5 316.2 1142.5 316.3C1144.5 316.4 1146.5 316.5 1148.5 316.6C1150.5 316.7 1152.5 316.8 1154.5 316.9C1156.5 317.0 1158.5 317.1 1160.5 317.2C1162.5 317.3 1164.5 317.4 1166.5 317.6C1168.5 317.7 1170.5 317.8 1172.5 317.9C1174.5 318.0 1176.5 318.2 1178.5 318.3C1180.5 318.4 1182.5 318.6 1184.5 318.7C1186.5 318.8 1188.5 319.0 1190.5 319.1C1192.5 319.3 1194.5 319.4 1196.5 319.6C1198.5 319.7 1200.5 319.9 1202.5 320.0C1204.5 320.2 1206.5 320.4 1208.5 320.5C1210.5 320.7 1212.5 320.9 1214.5 321.0C1216.5 321.2 1218.5 321.4 1220.5 321.6C1222.5 321.8 1224.5 321.9 1226.5 322.1C1228.5 322.3 1230.5 322.5 1232.5 322.7C1234.5 322.9 1236.5 323.1 1238.5 323.3C1240.5 323.5 1242.5 323.8 1244.5 324.0C1246.5 324.2 1248.5 324.4 1250.5 324.7C1252.5 324.9 1254.5 325.1 1256.5 325.4C1258.5 325.6 1260.5 325.8 1262.5 326.1C1264.5 326.3 1266.5 326.6 1268.5 326.8C1270.5 327.1 1272.5 327.3 1274.5 327.6C1276.5 327.8 1278.5 328.1 1280.5 328.4C1282.5 328.6 1284.5 328.9 1286.5 329.2C1288.5 329.4 1290.5 329.7 1292.5 330.0C1294.5 330.3 1296.5 330.5 1298.5 330.8C1300.5 331.1 1302.5 331.4 1304.5 331.6C1306.5 331.9 1308.5 332.2 1310.5 332.5C1312.5 332.8 1314.5 333.0 1316.5 333.3C1318.5 333.6 1320.5 333.9 1322.5 334.2C1324.5 334.5 1326.5 334.8 1328.5 335.1C1330.5 335.3 1332.5 335.6 1334.5 335.9C1336.5 336.2 1338.5 336.5 1340.5 336.8C1342.5 337.1 1344.5 337.4 1346.5 337.7C1348.5 338.0 1350.5 338.3 1352.5 338.6C1354.5 338.9 1356.5 339.2 1358.5 339.5C1360.5 339.8 1362.5 340.1 1364.5 340.4C1366.5 340.7 1368.5 341.0 1370.5 341.3C1372.5 341.6 1374.5 341.9 1376.5 342.2C1378.5 342.5 1380.5 342.8 1382.5 343.1C1384.5 343.5 1386.5 343.8 1388.5 344.1C1390.5 344.4 1392.5 344.7 1394.5 345.0C1396.5 345.3 1398.5 345.6 1400.5 345.9C1402.5 346.3 1404.5 346.6 1406.5 346.9C1408.5 347.2 1410.5 347.5 1412.5 347.8C1414.5 348.1 1416.5 348.4 1418.5 348.8C1420.5 349.1 1422.5 349.4 1424.5 349.7C1426.5 350.0 1428.5 350.3 1430.5 350.6C1432.5 351.0 1434.5 351.3 1436.5 351.6C1438.5 351.9 1440.5 352.2 1442.5 352.5C1444.5 352.8 1446.5 353.1 1448.5 353.5C1450.5 353.8 1452.5 354.1 1454.5 354.4C1456.5 354.7 1458.5 355.0 1460.5 355.3C1462.5 355.6 1464.5 355.9 1466.5 356.2C1468.5 356.5 1470.5 356.8 1472.5 357.1C1474.5 357.4 1476.5 357.8 1478.5 358.1C1480.5 358.4 1482.5 358.7 1484.5 359.0C1486.5 359.3 1488.5 359.6 1490.5 359.9C1492.5 360.2 1494.5 360.5 1496.5 360.8C1498.5 361.1 1500.5 361.4 1502.5 361.7C1504.5 362.0 1506.5 362.3 1508.5 362.6C1510.5 362.9 1512.5 363.1 1514.5 363.4C1516.5 363.7 1518.5 364.0 1520.5 364.3C1522.5 364.6 1524.5 364.9 1526.5 365.2C1528.5 365.5 1530.5 365.8 1532.5 366.1C1534.5 366.4 1536.5 366.7 1538.5 366.9C1540.5 367.2 1542.5 367.5 1544.5 367.8C1546.5 368.1 1548.5 368.4 1550.5 368.7C1552.5 368.9 1554.5 369.2 1556.5 369.5C1558.5 369.8 1560.5 370.1 1562.5 370.3C1564.5 370.6 1566.5 370.9 1568.5 371.2C1570.5 371.4 1572.5 371.7 1574.5 372.0C1576.5 372.3 1579.1 372.6 1580.5 372.8C1581.9 373.0 1581.2 372.9 1583.0 373.2C1584.8 373.4 1589.7 374.1 1591.0 374.2"/></defs>
<g clip-path="url(#c-gray)" fill="none" stroke="#505050" stroke-linejoin="round"><use href="#p-gray" stroke-width="10" shape-rendering="crispEdges"/><use href="#p-gray" stroke-width="7"/></g>
<g clip-path="url(#c-red)" fill="none" stroke="#EF4040" stroke-linejoin="round"><use href="#p-red" stroke-width="10" shape-rendering="crispEdges"/><use href="#p-red" stroke-width="7"/></g>
<g clip-path="url(#c-blue)" fill="none" stroke="#1A6EDE" stroke-linejoin="round"><use href="#p-blue" stroke-width="10" shape-rendering="crispEdges"/><use href="#p-blue" stroke-width="7"/></g>
<g clip-path="url(#c-green)" fill="none" stroke="#36AC6A" stroke-linejoin="round"><use href="#p-green" stroke-width="10" shape-rendering="crispEdges"/><use href="#p-green" stroke-width="7"/></g>
<path fill="#000" fill-rule="evenodd" d="M109 12.7H1601V1242H109Z M118 22V1232H1593V22Z"/>
<rect x="118.8" y="1225" width="9" height="8" fill="#000"/>
<rect x="231.1" y="1213" width="9" height="20" fill="#000"/>
<rect x="343.4" y="1225" width="9" height="8" fill="#000"/>
<rect x="455.6" y="1213" width="9" height="20" fill="#000"/>
<rect x="567.9" y="1225" width="9" height="8" fill="#000"/>
<rect x="680.1" y="1213" width="9" height="20" fill="#000"/>
<rect x="792.4" y="1225" width="9" height="8" fill="#000"/>
<rect x="904.6" y="1213" width="9" height="20" fill="#000"/>
<rect x="1016.9" y="1225" width="9" height="8" fill="#000"/>
<rect x="1129.1" y="1213" width="9" height="20" fill="#000"/>
<rect x="1241.3" y="1225" width="9" height="8" fill="#000"/>
<rect x="1353.6" y="1213" width="9" height="20" fill="#000"/>
<rect x="1465.8" y="1225" width="9" height="8" fill="#000"/>
<rect x="1578.1" y="1213" width="9" height="20" fill="#000"/>
<text transform="translate(235.6 1302.9) scale(1 1.115)" font-size="47.9" text-anchor="middle" stroke="#fff" stroke-width="0.7">100</text>
<text transform="translate(460.1 1302.9) scale(1 1.115)" font-size="47.9" text-anchor="middle" stroke="#fff" stroke-width="0.7">200</text>
<text transform="translate(684.6 1302.9) scale(1 1.115)" font-size="47.9" text-anchor="middle" stroke="#fff" stroke-width="0.7">300</text>
<text transform="translate(909.1 1302.9) scale(1 1.115)" font-size="47.9" text-anchor="middle" stroke="#fff" stroke-width="0.7">400</text>
<text transform="translate(1133.6 1302.9) scale(1 1.115)" font-size="47.9" text-anchor="middle" stroke="#fff" stroke-width="0.7">500</text>
<text transform="translate(1358.1 1302.9) scale(1 1.115)" font-size="47.9" text-anchor="middle" stroke="#fff" stroke-width="0.7">600</text>
<text transform="translate(1582.6 1302.9) scale(1 1.115)" font-size="47.9" text-anchor="middle" stroke="#fff" stroke-width="0.7">700</text>
<text transform="translate(783.5 1417.9) scale(1 1.149)" font-size="70.66">T/<tspan font-size="79" dx="-1.7" dy="6.4">°</tspan><tspan dx="-1.7" dy="-6.4">C</tspan></text>
<text transform="translate(62.8 893.6) rotate(-90) scale(1.0965 1)" font-size="72.8">TCD signal/a.u.</text>
<text transform="translate(1345.1 308) scale(1 1.15)" font-size="41.05">Co/Al<tspan font-size="39.41" dy="10.26">2</tspan><tspan dy="-10.26">O</tspan><tspan font-size="39.41" dy="10.26">3</tspan><tspan dy="-10.26">-NS</tspan></text>
<text transform="translate(1375.4 503.9) scale(1 1.15)" font-size="41.05">Al<tspan font-size="39.41" dy="10.26">2</tspan><tspan dy="-10.26">O</tspan><tspan font-size="39.41" dy="10.26">3</tspan><tspan dy="-10.26">-NS</tspan></text>
<text transform="translate(1345.3 683.1) scale(1 1.15)" font-size="41.05">Co/Al<tspan font-size="39.41" dy="10.26">2</tspan><tspan dy="-10.26">O</tspan><tspan font-size="39.41" dy="10.26">3</tspan><tspan dy="-10.26">-NR</tspan></text>
<text transform="translate(1388.1 986.2) scale(1 1.15)" font-size="41.05">Al<tspan font-size="39.41" dy="10.26">2</tspan><tspan dy="-10.26">O</tspan><tspan font-size="39.41" dy="10.26">3</tspan><tspan dy="-10.26">-NR</tspan></text>
</svg></body></html>
